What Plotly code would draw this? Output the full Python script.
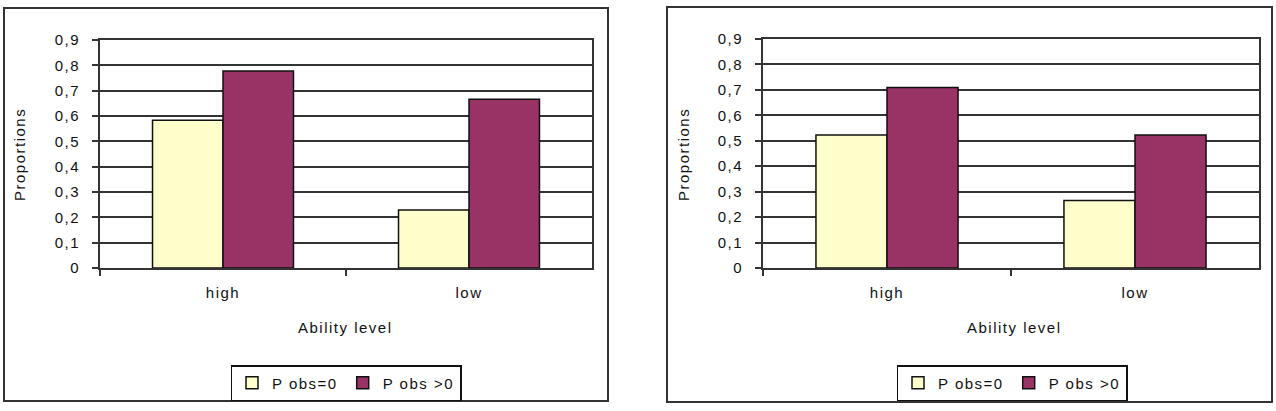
import plotly.graph_objects as go

# ---- data ----
categories = ["high", "low"]
left_pobs_zero = [0.583, 0.229]
left_pobs_pos = [0.778, 0.666]
right_pobs_zero = [0.523, 0.265]
right_pobs_pos = [0.709, 0.523]
y_tickvals = [0, 0.1, 0.2, 0.3, 0.4, 0.5, 0.6, 0.7, 0.8, 0.9]
y_ticktext = ["0", "0,1", "0,2", "0,3", "0,4", "0,5", "0,6", "0,7", "0,8", "0,9"]
series_names = ["P obs=0", "P obs >0"]
x_title = "Ability level"
y_title = "Proportions"

W, H = 1276, 411
FONT = "Liberation Sans, Arial, sans-serif"
FS = 15
LS = "1.5px"
INK = "#111111"
GRID = "#333333"
YELLOW = "#FFFFCC"
PLUM = "#993366"


def sp(t):
    return f"<span style='letter-spacing:{LS}'>{t}</span>"


def px_x(x):
    return x / W


def px_y(y):
    return 1 - y / H


fig = go.Figure()

panels = [
    dict(xa="x", ya="y", leg="legend", z=left_pobs_zero, p=left_pobs_pos),
    dict(xa="x2", ya="y2", leg="legend2", z=right_pobs_zero, p=right_pobs_pos),
]
for pn in panels:
    fig.add_trace(go.Bar(x=categories, y=pn["z"], name=sp(series_names[0]),
                         marker=dict(color=YELLOW, line=dict(color=INK, width=1.5)),
                         xaxis=pn["xa"], yaxis=pn["ya"], legend=pn["leg"]))
    fig.add_trace(go.Bar(x=categories, y=pn["p"], name=sp(series_names[1]),
                         marker=dict(color=PLUM, line=dict(color=INK, width=1.5)),
                         xaxis=pn["xa"], yaxis=pn["ya"], legend=pn["leg"]))

xcommon = dict(type="category", showline=True, linecolor=GRID, linewidth=2, mirror=True,
               ticks="outside", ticklen=6, tickwidth=1.5, tickcolor=GRID,
               tickson="boundaries", showgrid=False, ticklabelstandoff=10,
               automargin=False,
               tickfont=dict(family=FONT, size=FS, color=INK),
               tickvals=categories, ticktext=[sp(c) for c in categories])
ycommon = dict(range=[0, 0.9], showline=True, linecolor=GRID, linewidth=2, mirror=True,
               ticks="outside", ticklen=6, tickwidth=1.5, tickcolor=GRID,
               showgrid=True, gridcolor=GRID, gridwidth=2, zeroline=False,
               automargin=False,
               tickvals=y_tickvals, ticktext=[sp(t) for t in y_ticktext],
               ticklabelstandoff=9,
               tickfont=dict(family=FONT, size=FS, color=INK))

legcommon = dict(xanchor="center", yanchor="top", orientation="h",
                 bordercolor=INK, borderwidth=1.5, bgcolor="white",
                 font=dict(family=FONT, size=FS, color=INK), itemwidth=30,
                 tracegroupgap=0)

fig.update_layout(
    width=W, height=H, autosize=False,
    margin=dict(l=0, r=0, t=0, b=0, pad=0, autoexpand=False),
    paper_bgcolor="white", plot_bgcolor="white",
    barmode="group", bargap=0.427, bargroupgap=0,
    xaxis=dict(domain=[px_x(100), px_x(592)], anchor="y", **xcommon),
    yaxis=dict(domain=[px_y(268), px_y(40)], anchor="x", **ycommon),
    xaxis2=dict(domain=[px_x(763), px_x(1259)], anchor="y2", **xcommon),
    yaxis2=dict(domain=[px_y(268), px_y(39)], anchor="x2", **ycommon),
    legend=dict(x=px_x(346), y=px_y(365), **legcommon),
    legend2=dict(x=px_x(1012), y=px_y(365), **legcommon),
    showlegend=True,
)

# outer chart frames
fig.add_shape(type="rect", xref="paper", yref="paper",
              x0=px_x(4), x1=px_x(608), y0=px_y(401), y1=px_y(8),
              line=dict(color="#333333", width=2), layer="below")
fig.add_shape(type="rect", xref="paper", yref="paper",
              x0=px_x(667), x1=px_x(1272), y0=px_y(402), y1=px_y(7),
              line=dict(color="#333333", width=2), layer="below")

# axis titles
for xc, xt in [(19, 345), (683, 1014)]:
    fig.add_annotation(text=sp(y_title), x=px_x(xc), y=px_y(155), xref="paper", yref="paper",
                       textangle=-90, showarrow=False, xanchor="center", yanchor="middle",
                       font=dict(family=FONT, size=FS, color=INK))
    fig.add_annotation(text=sp(x_title), x=px_x(xt), y=px_y(327), xref="paper", yref="paper",
                       showarrow=False, xanchor="center", yanchor="middle",
                       font=dict(family=FONT, size=FS, color=INK))

fig.write_html("out.html", config={"displayModeBar": False},
               post_script="document.body.style.margin='0';document.body.style.overflow='hidden';")
